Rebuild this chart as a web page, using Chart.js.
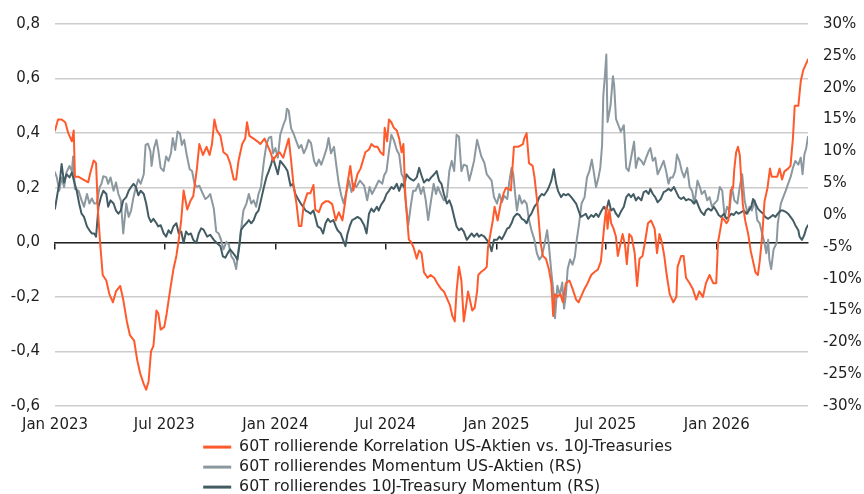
<!DOCTYPE html>
<html>
<head>
<meta charset="utf-8">
<script src="https://cdn.jsdelivr.net/npm/chart.js@4.4.1/dist/chart.umd.min.js"></script>
<style>
html,body{margin:0;padding:0;background:#ffffff;}
#wrap{width:864px;height:494px;}
</style>
</head>
<body>
<div id="wrap"><canvas id="c" width="864" height="494"></canvas></div>
<script>
// x values are days since 1 Jan 2023
const tickDays = [0, 181, 365, 547, 731, 912, 1096];
const tickLabels = ['Jan 2023', 'Jul 2023', 'Jan 2024', 'Jul 2024', 'Jan 2025', 'Jul 2025', 'Jan 2026'];
const seriesNames = [
  '60T rollierende Korrelation US-Aktien vs. 10J-Treasuries',
  '60T rollierendes Momentum US-Aktien (RS)',
  '60T rollierendes 10J-Treasury Momentum (RS)'
];

// Series 1: correlation (left axis)
const corrDays = [
  0,5,11,17,22,28,31,33,39,47,
  55,58,64,68,71,75,79,85,90,96,
  101,108,113,119,124,131,136,141,147,151,
  155,159,163,168,171,175,181,185,191,196,
  201,205,209,213,219,224,229,235,239,245,
  251,256,260,264,268,274,279,285,290,296,
  300,304,310,315,318,322,329,335,340,347,
  351,357,361,367,372,378,383,387,391,395,
  400,404,408,412,418,423,428,431,437,442,
  448,453,459,465,470,476,480,484,489,494,
  501,506,514,520,524,529,534,539,544,546,
  550,553,557,561,566,570,574,577,580,582,
  586,590,594,599,603,607,611,617,622,628,
  633,639,644,650,654,658,662,665,669,673,
  677,681,684,687,691,695,699,701,705,711,
  715,717,721,725,728,733,738,743,747,755,
  760,767,775,777,781,785,791,794,799,804,
  808,813,818,822,825,828,832,837,841,846,
  852,857,863,867,871,877,882,888,893,899,
  904,907,910,913,915,918,921,925,929,932,
  936,940,944,947,951,955,960,964,968,973,
  977,982,987,993,997,1001,1005,1009,1013,1018,
  1024,1029,1031,1037,1041,1045,1051,1056,1062,1067,
  1073,1078,1084,1090,1095,1098,1102,1105,1109,1112,
  1115,1119,1123,1125,1128,1131,1134,1137,1139,1143,
  1148,1152,1156,1160,1164,1167,1171,1175,1180,1184,
  1187,1192,1196,1200,1204,1208,1214,1218,1222,1225,
  1231,1235,1239,1243,1247
];
const corrValues = [
  0.41,0.45,0.45,0.44,0.40,0.37,0.41,0.24,0.24,0.23,
  0.22,0.25,0.30,0.29,0.12,-0.01,-0.12,-0.14,-0.19,-0.22,
  -0.18,-0.16,-0.21,-0.29,-0.34,-0.36,-0.43,-0.48,-0.52,-0.54,
  -0.51,-0.40,-0.38,-0.25,-0.26,-0.32,-0.31,-0.26,-0.17,-0.10,
  -0.05,0.01,0.08,0.19,0.12,0.15,0.17,0.27,0.36,0.32,
  0.35,0.32,0.36,0.45,0.41,0.39,0.33,0.32,0.29,0.23,
  0.23,0.30,0.36,0.38,0.44,0.39,0.38,0.37,0.36,0.38,
  0.36,0.33,0.30,0.32,0.33,0.31,0.35,0.38,0.30,0.21,
  0.14,0.06,0.06,0.14,0.18,0.18,0.21,0.12,0.11,0.14,
  0.15,0.15,0.14,0.08,0.11,0.08,0.14,0.21,0.28,0.19,
  0.25,0.27,0.33,0.34,0.36,0.35,0.35,0.33,0.32,0.42,
  0.37,0.45,0.44,0.42,0.41,0.38,0.33,0.36,0.18,0.12,
  0.01,0.00,-0.02,-0.06,-0.03,-0.04,-0.11,-0.13,-0.12,-0.13,
  -0.15,-0.17,-0.18,-0.21,-0.23,-0.27,-0.29,-0.18,-0.09,-0.14,
  -0.29,-0.23,-0.18,-0.21,-0.25,-0.24,-0.18,-0.12,-0.11,-0.10,
  -0.09,-0.02,0.03,0.08,0.13,0.08,0.14,0.18,0.20,0.19,
  0.35,0.35,0.36,0.38,0.40,0.29,0.28,0.24,0.14,0.00,
  -0.05,-0.06,-0.10,-0.15,-0.27,-0.19,-0.20,-0.19,-0.22,-0.15,
  -0.14,-0.17,-0.21,-0.22,-0.20,-0.17,-0.15,-0.12,-0.11,-0.10,
  -0.07,0.00,0.07,0.13,0.05,0.12,0.07,0.05,0.02,-0.05,
  -0.01,0.03,-0.01,-0.08,0.03,0.02,-0.04,-0.16,-0.06,-0.05,
  0.00,0.07,0.08,0.05,-0.04,0.03,0.00,-0.05,-0.12,-0.19,
  -0.22,-0.20,-0.09,-0.05,-0.05,-0.13,-0.15,-0.17,-0.21,-0.18,
  -0.20,-0.15,-0.12,-0.15,-0.15,0.00,0.05,0.09,0.08,0.07,
  0.08,0.19,0.20,0.27,0.33,0.35,0.32,0.21,0.14,0.08,
  0.03,-0.03,-0.07,-0.11,-0.12,-0.07,0.02,0.15,0.20,0.27,
  0.24,0.24,0.24,0.27,0.23,0.26,0.27,0.28,0.38,0.50,
  0.50,0.59,0.63,0.65,0.67
];

// Series 2: US equity momentum, % (right axis)
const eqDays = [
  0,3,7,11,15,19,24,28,30,33,
  39,44,48,53,57,61,65,69,74,77,
  80,85,88,92,97,101,105,109,113,118,
  122,126,130,134,138,142,147,150,154,158,
  160,164,168,171,175,180,184,188,192,195,
  199,203,207,210,214,218,223,227,231,235,
  239,245,249,253,257,263,267,271,275,279,
  284,288,292,296,300,304,308,312,317,321,
  325,329,333,337,341,346,350,354,358,361,
  365,369,373,378,382,384,387,391,395,400,
  404,408,412,416,420,424,429,433,437,441,
  445,450,453,457,462,466,470,474,478,483,
  487,491,495,499,505,512,517,521,525,531,
  536,542,545,549,553,557,561,566,570,574,
  577,581,585,589,593,597,602,606,610,614,
  618,622,627,631,634,639,644,649,653,657,
  661,665,669,673,677,682,686,690,694,699,
  702,706,711,715,719,723,727,732,736,740,
  744,749,752,756,759,762,765,769,773,777,
  781,785,789,794,798,802,806,810,815,818,
  822,826,828,832,836,840,843,846,849,853,
  857,861,864,868,872,877,881,885,889,892,
  896,900,903,906,908,911,913,915,920,924,
  926,929,933,937,942,946,950,954,959,962,
  966,971,975,979,983,986,990,994,998,1003,
  1008,1012,1016,1019,1023,1027,1030,1034,1038,1042,
  1047,1051,1055,1059,1064,1068,1071,1076,1080,1084,
  1088,1092,1097,1101,1105,1109,1113,1117,1121,1125,
  1130,1134,1138,1142,1147,1150,1154,1159,1163,1167,
  1171,1175,1178,1181,1183,1186,1190,1195,1197,1202,
  1206,1210,1214,1218,1222,1226,1231,1235,1238,1241,
  1244,1247
];
const eqValues = [
  6.7,5.9,3.8,5.9,4.4,6.7,7.7,6.9,9.2,4.1,
  3.8,2.3,1.3,3.3,1.8,2.6,1.8,1.8,4.4,4.9,
  6.1,5.9,4.9,5.9,3.8,5.1,3.3,2.3,-2.9,1.8,
  -0.3,0.7,2.8,4.4,5.6,4.9,6.4,11.0,11.2,10.0,
  7.7,10.5,11.8,10.2,7.4,6.9,9.2,8.5,9.7,12.1,
  10.2,13.1,12.8,11.0,11.8,9.5,7.2,6.9,4.9,4.4,
  4.6,3.3,2.5,2.8,3.3,1.0,-2.6,-2.9,-3.9,-5.4,
  -4.2,-4.7,-6.5,-7.0,-8.5,-5.4,-2.4,0.7,1.8,3.3,
  1.8,2.3,1.3,3.3,4.4,8.5,11.0,12.1,12.3,9.7,
  10.5,9.0,12.6,14.1,15.1,16.7,16.4,13.6,12.8,11.5,
  10.5,11.0,9.7,10.5,11.8,11.3,8.5,7.7,8.7,7.9,
  9.0,10.5,12.1,9.7,10.7,7.7,4.9,3.1,1.8,3.8,
  5.4,3.6,4.9,4.4,5.4,4.6,2.3,4.4,3.3,4.4,
  5.4,4.9,6.2,6.9,10.0,12.6,11.8,10.2,9.5,6.4,
  5.9,1.8,-1.6,1.3,3.8,3.8,4.9,3.3,4.4,2.3,
  -0.8,1.8,4.9,3.3,4.4,3.3,2.3,2.8,6.9,8.5,
  6.9,12.6,12.3,6.9,7.9,7.7,5.4,6.9,8.5,11.8,
  10.7,9.2,8.2,6.4,5.9,5.4,2.8,1.8,3.3,2.0,
  3.0,2.5,5.0,7.4,6.4,3.3,0.7,3.1,1.8,2.3,
  1.8,-0.8,-2.4,-3.9,-6.0,-7.0,-6.5,-4.9,-2.4,-4.9,
  -9.0,-12.6,-16.2,-11.1,-12.6,-10.6,-14.7,-12.6,-8.5,-7.0,
  -7.8,-6.5,-3.9,-1.3,1.8,2.8,5.9,6.9,8.7,6.9,
  4.4,5.9,7.4,11.0,18.7,22.3,25.2,14.6,17.2,21.8,
  20.4,15.1,14.1,13.1,14.1,7.4,6.9,9.0,11.5,7.4,
  9.0,8.5,7.9,9.0,10.0,10.5,8.5,9.0,6.4,7.4,
  8.5,6.9,4.9,5.9,5.9,6.9,9.5,8.5,6.9,5.9,
  7.4,4.4,3.8,1.8,5.4,4.4,3.3,3.8,2.3,2.8,
  1.3,1.8,2.3,4.4,3.8,-0.3,1.3,0.7,4.4,2.3,
  1.8,4.4,6.4,2.3,0.2,1.3,0.7,2.3,-0.8,-1.3,
  -2.9,-4.4,-6.0,-3.9,-7.0,-8.5,-5.4,-4.4,-1.3,1.8,
  2.8,3.8,4.9,5.9,7.4,8.5,7.9,9.0,6.4,9.5,
  10.5,12.3
];

// Series 3: 10Y Treasury momentum, % (right axis)
const tsyDays = [
  0,4,8,11,15,19,24,28,32,36,
  40,44,48,53,57,61,65,68,72,76,
  80,85,88,92,97,101,105,109,113,118,
  122,126,130,134,138,142,147,151,155,159,
  163,168,171,175,180,184,188,192,196,201,
  205,209,213,217,221,225,229,234,238,242,
  246,252,257,263,268,274,278,282,286,290,
  295,299,302,306,308,312,317,321,325,329,
  333,337,341,346,350,354,358,361,365,369,
  373,378,382,385,390,394,398,402,407,411,
  415,419,423,428,431,435,440,444,448,452,
  456,461,465,468,473,477,481,484,488,492,
  496,501,506,512,516,520,524,528,533,536,
  540,545,549,553,557,561,566,570,574,578,
  582,586,590,594,599,603,607,611,616,619,
  623,628,632,636,640,644,649,653,657,661,
  665,669,673,677,682,686,690,694,699,702,
  706,711,715,719,723,727,732,736,740,744,
  749,752,756,760,765,769,773,777,781,785,
  789,794,798,802,806,810,815,818,822,826,
  830,833,838,842,846,850,855,859,863,867,
  871,876,879,883,888,892,896,900,904,909,
  913,917,921,925,929,933,937,942,946,950,
  954,958,962,966,971,975,979,983,986,990,
  994,998,1003,1008,1012,1016,1020,1025,1029,1033,
  1037,1041,1045,1049,1054,1058,1062,1066,1070,1075,
  1078,1082,1087,1091,1095,1099,1103,1108,1112,1116,
  1120,1124,1128,1132,1137,1141,1145,1149,1153,1156,
  1160,1164,1169,1173,1176,1181,1185,1189,1193,1197,
  1202,1206,1210,1214,1218,1222,1226,1231,1233,1237,
  1241,1244,1247
];
const tsyValues = [
  1.0,3.3,5.4,8.0,5.1,6.4,5.9,6.7,5.1,3.8,
  1.8,0.2,-0.3,-1.8,-2.4,-2.9,-2.9,-3.4,1.3,2.8,
  3.8,3.3,1.3,2.3,1.8,0.7,0.2,0.7,2.3,2.8,
  3.8,4.4,4.9,4.4,3.1,3.8,3.3,1.8,-0.3,-1.1,
  -0.6,-1.3,-1.8,-1.6,-2.9,-3.4,-2.4,-2.9,-1.8,-1.3,
  -2.9,-2.6,-4.4,-2.6,-3.1,-2.9,-3.9,-4.4,-2.9,-2.1,
  -2.3,-3.4,-3.1,-3.9,-4.4,-4.9,-6.5,-6.7,-6.0,-5.4,
  -6.0,-6.5,-7.0,-4.4,-2.4,-1.8,-1.3,-0.8,-1.3,-0.8,
  0.2,0.7,2.3,4.4,5.9,6.9,8.0,9.0,7.7,6.4,
  8.5,7.9,7.4,6.9,4.6,4.9,3.3,2.6,1.8,1.3,
  0.7,0.5,0.2,0.7,-0.3,-1.8,-2.1,-2.9,-1.3,-0.6,
  -1.1,-0.8,-1.8,-2.4,-2.9,-3.9,-4.9,-3.1,-1.8,-0.8,
  -0.6,-0.3,-0.6,-1.6,-2.9,0.2,1.0,0.5,1.3,0.7,
  1.6,2.3,3.3,3.8,4.4,4.1,4.9,3.8,4.9,4.4,
  6.4,5.9,5.6,5.4,5.9,7.4,6.2,5.1,5.6,5.4,
  5.9,6.4,6.9,5.4,4.9,3.3,1.8,2.3,1.3,-0.3,
  -1.8,-2.4,-2.1,-2.6,-3.9,-3.4,-2.9,-3.4,-2.9,-3.4,
  -3.1,-3.4,-3.9,-4.4,-5.7,-3.9,-3.9,-3.4,-3.8,-3.1,
  -2.1,-2.0,-1.3,-0.3,0.2,0.0,-0.6,-0.8,-1.3,-0.3,
  0.2,1.3,1.8,2.8,3.3,3.1,3.8,4.4,5.4,7.2,
  4.9,3.8,2.8,3.3,3.1,3.3,2.8,2.3,1.8,0.7,
  -0.3,0.0,0.2,-0.6,0.0,-0.3,0.2,-0.3,0.5,1.3,
  0.7,2.3,0.7,1.0,0.2,-0.3,0.5,1.3,2.8,3.3,
  2.8,3.3,2.3,2.8,2.3,3.6,3.8,3.3,4.1,3.3,
  2.8,2.0,2.5,3.6,3.8,4.1,3.8,4.4,3.6,2.8,
  2.5,2.8,2.3,2.5,2.3,1.8,2.3,1.3,0.5,0.0,
  0.7,1.0,0.7,1.3,0.7,0.0,-0.3,0.2,-0.6,-0.3,
  0.2,0.0,0.5,0.2,0.5,0.7,0.2,0.7,1.3,2.5,
  1.8,1.0,0.5,0.2,-0.3,-0.6,-0.3,0.0,-0.3,0.2,
  0.7,0.7,0.5,0.2,-0.3,-0.8,-1.6,-2.4,-3.4,-3.9,
  -3.1,-2.1,-1.6
];

const leftTicks = {min: -0.6, max: 0.8, step: 0.2};
const rightTicks = {min: -30, max: 30, step: 5};

function toPoints(days, vals) {
  return days.map((d, i) => ({x: d, y: vals[i]}));
}
const lastDay = Math.max(corrDays[corrDays.length - 1], eqDays[eqDays.length - 1], tsyDays[tsyDays.length - 1]);

Chart.defaults.font.family = "'DejaVu Sans', sans-serif";
Chart.defaults.font.size = 15;
Chart.defaults.color = '#1e1e1e';

const setDateTicks = (scale) => { scale.ticks = tickDays.map(v => ({value: v})); };

// legend: one entry per row, rows left-aligned under the plot
const LEGEND_ROW_WIDTH = 490;
const X_AXIS_HEIGHT = 36;
const LEGEND_OVERLAP = 18;
const legendPlacement = {
  id: 'legendPlacement',
  beforeLayout(chart) {
    const lg = chart.legend;
    if (lg && !lg._rowPatched) {
      const orig = lg.update.bind(lg);
      lg.update = (maxWidth, maxHeight, margins) => {
        orig(Math.min(maxWidth, LEGEND_ROW_WIDTH), maxHeight, margins);
        lg._fullHeight = lg.height;
        lg.height = Math.max(0, lg.height - LEGEND_OVERLAP);
      };
      lg._rowPatched = true;
    }
  },
  afterLayout(chart) {
    const lg = chart.legend;
    if (!lg) return;
    lg.left = 199;
    lg.right = lg.left + LEGEND_ROW_WIDTH;
    lg.width = LEGEND_ROW_WIDTH;
    lg.top -= 7;
    lg.height = lg._fullHeight;
    lg.bottom = lg.top + lg._fullHeight;
  }
};

new Chart(document.getElementById('c'), {
  type: 'line',
  data: {
    datasets: [
      {label: seriesNames[0], data: toPoints(corrDays, corrValues), xAxisID: 'x', yAxisID: 'y',
       borderColor: '#ff5a2b', backgroundColor: '#ff5a2b', borderWidth: 2, order: 0},
      {label: seriesNames[1], data: toPoints(eqDays, eqValues), xAxisID: 'x', yAxisID: 'y1',
       borderColor: '#8b989f', backgroundColor: '#8b989f', borderWidth: 2, order: 2},
      {label: seriesNames[2], data: toPoints(tsyDays, tsyValues), xAxisID: 'x', yAxisID: 'y1',
       borderColor: '#435c64', backgroundColor: '#435c64', borderWidth: 2, order: 1}
    ]
  },
  options: {
    responsive: false,
    animation: false,
    devicePixelRatio: 1,
    layout: {padding: {top: 17, left: 0, right: 0, bottom: 0}},
    elements: {
      point: {radius: 0, hoverRadius: 0},
      line: {tension: 0, borderJoinStyle: 'round', borderCapStyle: 'round'}
    },
    plugins: {
      tooltip: {enabled: false},
      legend: {
        position: 'bottom',
        align: 'start',
        labels: {
          usePointStyle: true,
          pointStyle: 'line',
          pointStyleWidth: 28,
          padding: 4.2,
          color: '#1e1e1e',
          font: {size: 15.8},
          sort: (a, b) => a.datasetIndex - b.datasetIndex,
          generateLabels: (chart) => Chart.defaults.plugins.legend.labels.generateLabels(chart)
            .map(l => Object.assign(l, {lineWidth: 3}))
        }
      }
    },
    scales: {
      x: {
        type: 'linear', position: 'bottom', min: 0, max: lastDay,
        grid: {display: false, drawTicks: false},
        border: {display: false},
        afterBuildTicks: setDateTicks,
        afterFit: (s) => { s.height = X_AXIS_HEIGHT; },
        ticks: {
          autoSkip: false, maxRotation: 0, padding: 10,
          callback: (v) => { const i = tickDays.indexOf(v); return i >= 0 ? tickLabels[i] : ''; }
        }
      },
      xZero: {
        type: 'linear', position: {y: 0}, min: 0, max: lastDay,
        afterBuildTicks: setDateTicks,
        grid: {drawOnChartArea: false, drawTicks: true, tickLength: 6, color: '#222222', lineWidth: 1.5},
        border: {display: true, color: '#222222', width: 1.5},
        ticks: {display: false}
      },
      y: {
        type: 'linear', position: 'left', min: leftTicks.min, max: leftTicks.max,
        afterFit: (s) => { s.width = 55; },
        grid: {color: '#cccccc', lineWidth: 1.5, drawTicks: false},
        border: {display: false},
        ticks: {
          stepSize: leftTicks.step, padding: 15,
          callback: (v) => (Math.abs(v) < 1e-9 ? 0 : v).toFixed(1).replace('.', ',')
        }
      },
      y1: {
        type: 'linear', position: 'right', min: rightTicks.min, max: rightTicks.max,
        afterFit: (s) => { s.width = 56; },
        grid: {display: false, drawTicks: false},
        border: {display: false},
        ticks: {
          stepSize: rightTicks.step, padding: 15,
          callback: (v) => Math.round(v) + '%'
        }
      }
    }
  },
  plugins: [legendPlacement]
});
</script>
</body>
</html>
